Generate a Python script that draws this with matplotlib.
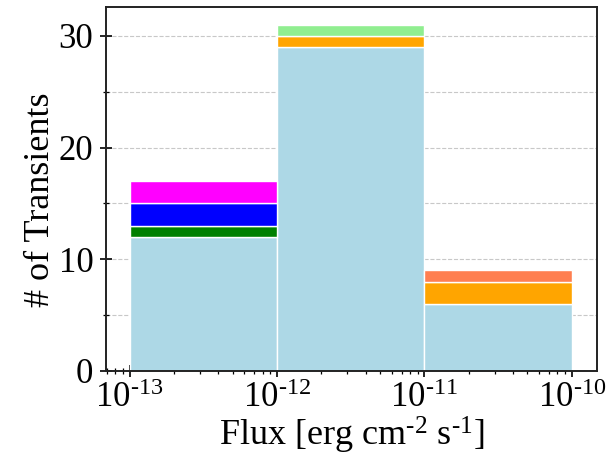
import numpy as np
import matplotlib
matplotlib.use('Agg')
import matplotlib.pyplot as plt
from matplotlib.ticker import MultipleLocator, FuncFormatter

plt.rcParams['font.family'] = ['Liberation Serif', 'DejaVu Serif']
plt.rcParams['mathtext.fontset'] = 'custom'
plt.rcParams['mathtext.rm'] = 'Liberation Serif'
plt.rcParams['mathtext.it'] = 'Liberation Serif:italic'
plt.rcParams['axes.unicode_minus'] = False

# flux bins (erg cm^-2 s^-1)
bin_edges = [1e-13, 1e-12, 1e-11, 1e-10]

# counts per category in each bin, stacked bottom to top
cat_colors = ['lightblue', 'green', 'blue', 'magenta', 'orange', 'lightgreen', 'coral']
counts_lightblue = [12, 29, 6]
counts_green = [1, 0, 0]
counts_blue = [2, 0, 0]
counts_magenta = [2, 0, 0]
counts_orange = [0, 1, 2]
counts_lightgreen = [0, 1, 0]
counts_coral = [0, 0, 1]
all_counts = [counts_lightblue, counts_green, counts_blue, counts_magenta,
              counts_orange, counts_lightgreen, counts_coral]

fig = plt.figure(figsize=(6.09, 4.54), dpi=100)
ax = fig.add_axes([0.174, 0.183, 0.806, 0.802])

edges = np.array(bin_edges)
widths = np.diff(edges)
bottom = np.zeros(len(widths))
for c, col in zip(all_counts, cat_colors):
    c = np.array(c, dtype=float)
    m = c > 0
    ax.bar(edges[:-1][m], c[m], width=widths[m], bottom=bottom[m], align='edge',
           color=col, edgecolor='white', linewidth=1.0, zorder=2)
    bottom += c

ax.set_xscale('log')
ax.set_xlim(6.9e-14, 1.48e-10)
ax.set_ylim(0, 32.6)
ax.yaxis.set_major_locator(MultipleLocator(10))
ax.yaxis.set_minor_locator(MultipleLocator(5))
ax.xaxis.set_major_formatter(FuncFormatter(
    lambda v, p: r'$10^{\text{%d}}$' % int(round(np.log10(v)))))
ax.grid(axis='y', which='both', linestyle='--', color='#c8c8c8', linewidth=0.8)
ax.set_axisbelow(True)

ax.tick_params(axis='both', which='major', labelsize=25, direction='inout', length=8, width=1.2)
ax.tick_params(axis='both', which='minor', direction='inout', length=5, width=0.9)
ax.tick_params(axis='x', which='major', pad=4)
ax.tick_params(axis='y', which='major', pad=5)
for s in ax.spines.values():
    s.set_linewidth(1.4)
    s.set_color('#222222')

ax.set_xlabel(r'Flux [erg cm$^{\text{-2}}$ s$^{\text{-1}}$]', fontsize=26, labelpad=0)
ax.set_ylabel('# of Transients', fontsize=26)
ax.yaxis.set_label_coords(-0.10, 0.47)

fig.savefig('out.png', dpi=100)
